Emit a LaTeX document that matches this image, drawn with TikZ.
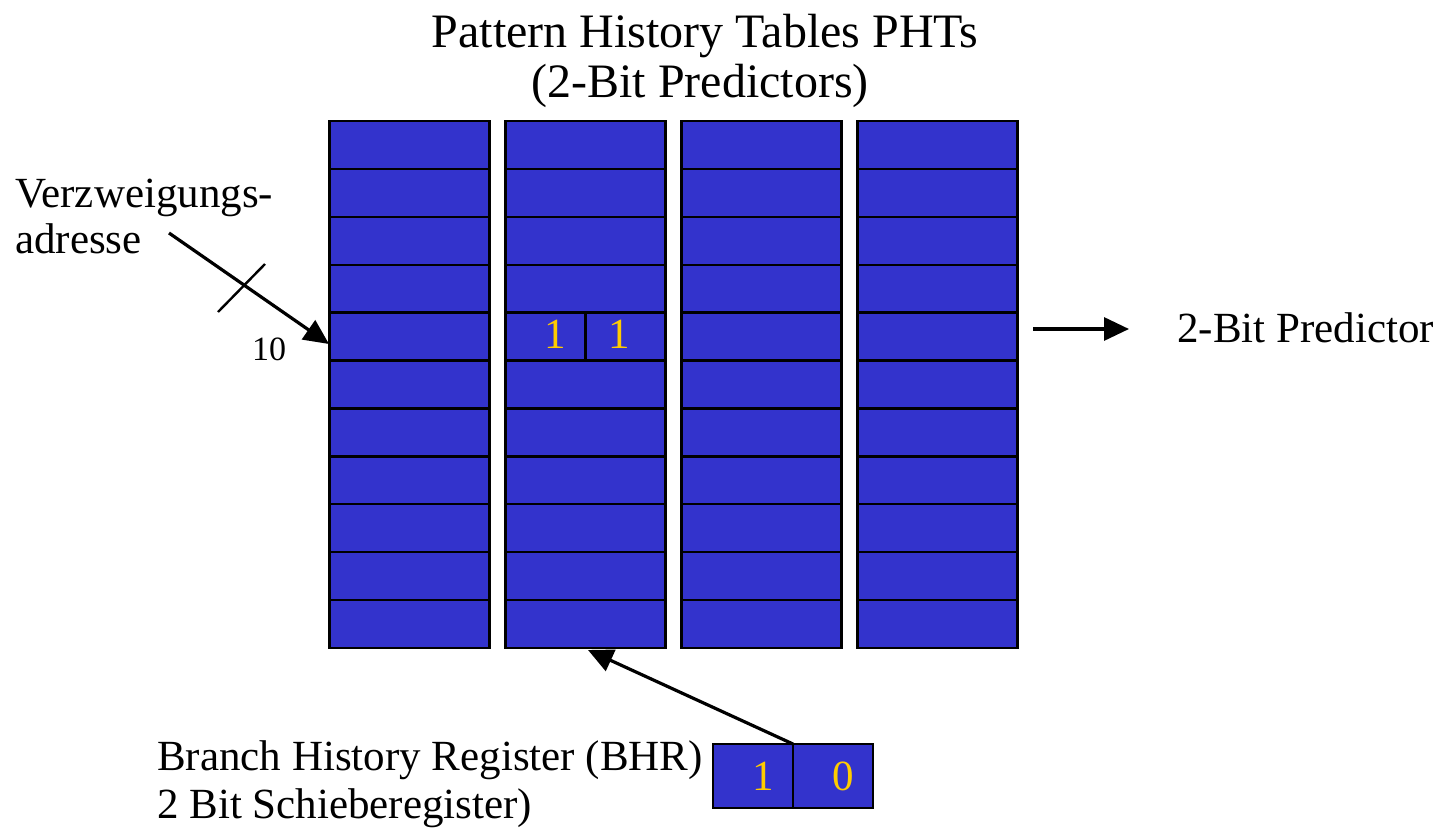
\documentclass[tikz,border=0pt]{standalone}
\usepackage{fontspec}
\setmainfont{Liberation Serif}
\usetikzlibrary{arrows.meta,calc}
\definecolor{cellblue}{RGB}{51,51,204}
\definecolor{bitgold}{RGB}{255,204,0}
\tikzset{
  tablecol/.style={draw=black, line width=2.6pt, fill=cellblue, inner sep=0pt, outer sep=0pt,
                   minimum width=160pt, minimum height=527pt, anchor=north west},
  regcell/.style={draw=black, line width=2.6pt, fill=cellblue, inner sep=0pt, outer sep=0pt,
                  minimum width=80pt, minimum height=64pt, anchor=north west},
  rowline/.style={line width=2.4pt, black},
  bigtext/.style={font=\fontsize{48}{56}\selectfont, inner sep=0pt, anchor=base},
  labeltext/.style={font=\fontsize{43}{50}\selectfont, inner sep=0pt, anchor=base west},
  smalltext/.style={font=\fontsize{34}{40}\selectfont, inner sep=0pt, anchor=base west},
  bittext/.style={font=\fontsize{43}{50}\selectfont, text=bitgold, inner sep=0pt, anchor=base},
  bigarrow/.style={line width=3.2pt, -{Triangle[length=25pt,width=23pt]}},
  tick/.style={line width=2.4pt}
}
\begin{document}
\begin{tikzpicture}[x=1pt,y=-1pt]
\useasboundingbox (0,0) rectangle (1436,835);
% title
\node[bigtext] (title1) at (705,47) {Pattern History Tables PHTs};
\node[bigtext] (title2) at (700,97) {(2-Bit Predictors)};
% tables
\node[tablecol] (t1) at (329.5,121) {};
\node[tablecol] (t2) at (505.5,121) {};
\node[tablecol] (t3) at (681.5,121) {};
\node[tablecol] (t4) at (857.5,121) {};
\foreach \t in {t1,t2,t3,t4}{
  \foreach \k in {1,...,10}{
    \draw[rowline] ($(\t.north west)!{\k/11}!(\t.south west)$) -- ($(\t.north east)!{\k/11}!(\t.south east)$);
  }
}
% divider in the 1 1 cell
\coordinate (divtop) at ($(t2.north)!{4/11}!(t2.south)$);
\coordinate (divbot) at ($(t2.north)!{5/11}!(t2.south)$);
\draw[rowline] (divtop) -- (divbot);
\node[bittext] (p1) at (555,348) {1};
\node[bittext] (p2) at (619,348) {1};
% left input
\node[labeltext] (verz1) at (15,207) {Verzweigungs-};
\node[labeltext] (verz2) at (15,253) {adresse};
\coordinate (addrstart) at (169,233);
\coordinate (addrtip) at (329,344);
\draw[bigarrow] (addrstart) -- (addrtip);
\coordinate (ticka) at (218,312);
\coordinate (tickb) at (265,264);
\draw[tick] (ticka) -- (tickb);
\node[smalltext] (ten) at (252,360) {10};
% output
\coordinate (outstart) at (1033,329);
\coordinate (outtip) at (1129,329);
\draw[bigarrow] (outstart) -- (outtip);
\node[labeltext] (pred) at (1177,342) {2-Bit Predictor};
% BHR
\node[regcell] (b1) at (713,744) {};
\node[regcell] (b0) at (793,744) {};
\node[bittext] (b1t) at (763,790) {1};
\node[bittext] (b0t) at (843,790) {0};
\node[labeltext] (bhr1) at (157,770) {Branch History Register (BHR)};
\node[labeltext] (bhr2) at (157,818) {2 Bit Schieberegister)};
\coordinate (bhrtip) at (588,650);
\draw[bigarrow] (b1.north east) -- (bhrtip);
\end{tikzpicture}
\end{document}
